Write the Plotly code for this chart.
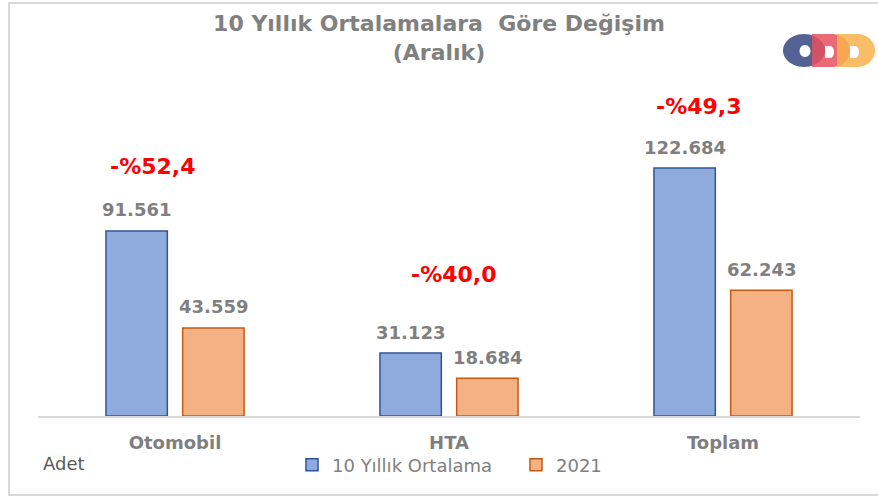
import numpy as np
import plotly.graph_objects as go

categories = ["Otomobil", "HTA", "Toplam"]
avg_10y = [91561, 31123, 122684]
y2021 = [43559, 18684, 62243]
series_names = ["10 Yıllık Ortalama", "2021"]
title_text = "10 Yıllık Ortalamalara&nbsp;&nbsp;Göre Değişim<br>(Aralık)"
unit_text = "Adet"

W, H = 878, 496
L, R, T, B = 38, 18, 60, 80
PW, PH = W - L - R, H - T - B
YMAX = 176150


def fmt_tr(v):
    return f"{v:,}".replace(",", ".")


def px_x(px):
    return (px - L) / PW


def px_y(py):
    return (H - B - py) / PH


fig = go.Figure()
fig.add_trace(go.Bar(
    x=categories, y=avg_10y, name=series_names[0],
    marker=dict(color="#8FAADC", line=dict(color="#2F5597", width=1.5)),
))
fig.add_trace(go.Bar(
    x=categories, y=y2021, name=series_names[1],
    marker=dict(color="#F4B183", line=dict(color="#C55A11", width=1.5)),
))

annotations = []
label_font = dict(family="DejaVu Sans", size=18, color="#7F7F7F", weight="bold")
for vals, xs in ((avg_10y, -38.4), (y2021, 38.4)):
    for c, v in zip(categories, vals):
        annotations.append(dict(x=c, y=v, xref="x", yref="y", text=fmt_tr(v),
                                showarrow=False, xshift=xs, yshift=21,
                                yanchor="middle", font=label_font))

pct_xshift = [-23, 4, -25]
pct_yshift = [64, 79, 62]
for i, c in enumerate(categories):
    pct = (y2021[i] - avg_10y[i]) / avg_10y[i] * 100
    txt = "-%" + f"{abs(pct):.1f}".replace(".", ",")
    annotations.append(dict(x=c, y=avg_10y[i], xref="x", yref="y", text=txt,
                            showarrow=False, xshift=pct_xshift[i], yshift=pct_yshift[i],
                            yanchor="middle",
                            font=dict(family="DejaVu Sans", size=22, color="#FF0000", weight="bold")))

annotations.append(dict(x=px_x(41), y=px_y(464), xref="paper", yref="paper", text=unit_text,
                        showarrow=False, xanchor="left", yanchor="middle",
                        font=dict(family="DejaVu Sans", size=18, color="#595959")))

shapes = []
# chart frame
shapes.append(dict(type="rect", xref="paper", yref="paper",
                   x0=px_x(9), x1=px_x(895), y0=px_y(3), y1=px_y(495),
                   line=dict(color="#D9D9D9", width=2), fillcolor="rgba(0,0,0,0)", layer="below"))


# logo (decorative)
def ellipse_pts(cx, cy, rx, ry, n=48):
    t = np.linspace(0, 2 * np.pi, n, endpoint=False)
    return [(cx + rx * np.cos(a), cy + ry * np.sin(a)) for a in t]


def d_pts(x0, cx, cy, rx, ry, n=30):
    pts = [(x0, cy - ry), (cx, cy - ry)]
    t = np.linspace(-np.pi / 2, np.pi / 2, n)
    pts += [(cx + rx * np.cos(a), cy + ry * np.sin(a)) for a in t]
    pts += [(x0, cy + ry)]
    return pts


def to_path(*polys):
    s = ""
    for poly in polys:
        s += "M" + "L".join(f"{px_x(x):.5f},{px_y(y):.5f}" for x, y in poly) + "Z"
    return s


shapes.append(dict(type="path", xref="paper", yref="paper",
                   path=to_path(ellipse_pts(804, 50.5, 21, 16.5), ellipse_pts(805, 51, 5.5, 6)),
                   fillcolor="#4A5A8F", line=dict(width=0), opacity=0.95, fillrule="evenodd"))
shapes.append(dict(type="path", xref="paper", yref="paper",
                   path=to_path(d_pts(812, 832, 50.5, 18, 16.5), d_pts(825, 830, 52, 4.0, 6)),
                   fillcolor="#E8505E", line=dict(width=0), opacity=0.85, fillrule="evenodd"))
shapes.append(dict(type="path", xref="paper", yref="paper",
                   path=to_path(d_pts(837, 857, 50.5, 18, 16.5), d_pts(850, 855, 52, 4.0, 6)),
                   fillcolor="#F9B24C", line=dict(width=0), opacity=0.85, fillrule="evenodd"))

fig.update_layout(
    width=W, height=H,
    margin=dict(l=L, r=R, t=T, b=B, autoexpand=False),
    paper_bgcolor="white", plot_bgcolor="white",
    barmode="group", bargap=0.44, bargroupgap=0.2,
    title=dict(text=title_text, x=0.5, xref="container", xanchor="center",
               y=1 - 31 / H, yref="container", yanchor="top",
               font=dict(family="DejaVu Sans", size=22, color="#808080", weight="bold")),
    xaxis=dict(showline=True, linecolor="#D9D9D9", linewidth=2, ticks="",
               tickfont=dict(family="DejaVu Sans", size=18, color="#7F7F7F", weight="bold"),
               ticklabelstandoff=9, showgrid=False, zeroline=False),
    yaxis=dict(range=[0, YMAX], visible=False, showgrid=False, zeroline=False),
    legend=dict(orientation="h", x=px_x(292), xanchor="left", xref="paper",
                y=px_y(465), yanchor="middle", itemwidth=30, entrywidth=179,
                font=dict(family="DejaVu Sans", size=18, color="#7F7F7F"),
                bgcolor="rgba(0,0,0,0)"),
    annotations=annotations,
    shapes=shapes,
)

fig.write_html("out.html", config={"displayModeBar": False},
               post_script="document.body.style.margin='0px';")
